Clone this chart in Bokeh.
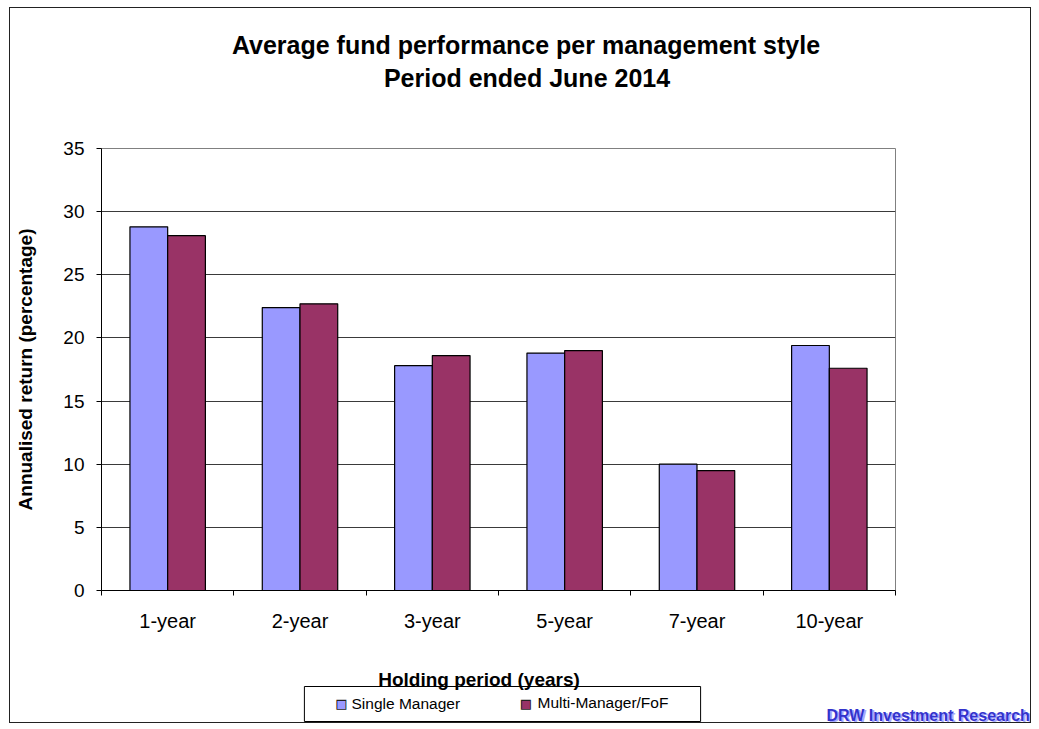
import math
from bokeh.plotting import figure
from bokeh.models import Range1d, FixedTicker, Label, ColumnDataSource
from bokeh.transform import dodge
from bokeh.embed import file_html
from bokeh.resources import INLINE

# ---------------- data ----------------
categories = ["1-year", "2-year", "3-year", "5-year", "7-year", "10-year"]
single_manager = [28.8, 22.4, 17.8, 18.8, 10.0, 19.4]
multi_manager = [28.1, 22.7, 18.6, 19.0, 9.5, 17.6]
y_ticks = [0, 5, 10, 15, 20, 25, 30, 35]
series_names = ["Single Manager", "Multi-Manager/FoF"]
title_lines = ["Average fund performance per management style",
               "Period ended June 2014"]
x_title = "Holding period (years)"
y_title = "Annualised return (percentage)"
watermark = "DRW Investment Research"

# ---------------- styles ----------------
FONT = "Liberation Sans"
SM_COLOR = "#9999FF"
MM_COLOR = "#993366"
BAR_W = 0.285

n = len(categories)
centers = [i + 0.5 for i in range(n)]
bounds = [float(i) for i in range(n + 1)]

src = ColumnDataSource(dict(x=centers, sm=single_manager, mm=multi_manager))

p = figure(width=1020, height=714, output_backend="svg", toolbar_location=None,
           x_range=Range1d(0, n), y_range=Range1d(y_ticks[0], y_ticks[-1]),
           min_border_left=91, min_border_right=135,
           min_border_top=140, min_border_bottom=132)
p.margin = (8, 0, 0, 10)
p.styles = {"outline": "1px solid #222222"}
p.background_fill_color = "white"
p.border_fill_color = "white"
p.outline_line_color = "#808080"
p.outline_line_width = 1

r_sm = p.vbar(x=dodge("x", -BAR_W / 2), top="sm", width=BAR_W, source=src,
              fill_color=SM_COLOR, line_color="black", line_width=1.2)
r_mm = p.vbar(x=dodge("x", BAR_W / 2), top="mm", width=BAR_W, source=src,
              fill_color=MM_COLOR, line_color="black", line_width=1.2)

# x axis
xa = p.xaxis[0]
xa.ticker = FixedTicker(ticks=centers, minor_ticks=bounds)
xa.major_label_overrides = {c: lab for c, lab in zip(centers, categories)}
xa.major_tick_out = 0
xa.major_tick_in = 0
xa.minor_tick_out = 5
xa.minor_tick_in = 0
xa.minor_tick_line_color = "black"
xa.axis_line_color = "black"
xa.major_label_standoff = 14
xa.major_label_text_font = FONT
xa.major_label_text_font_size = "20px"
xa.major_label_text_color = "black"

# y axis
ya = p.yaxis[0]
ya.ticker = FixedTicker(ticks=y_ticks)
ya.major_tick_out = 5
ya.major_tick_in = 0
ya.minor_tick_out = 0
ya.minor_tick_in = 0
ya.axis_line_color = "black"
ya.major_tick_line_color = "black"
ya.major_label_standoff = 12
ya.major_label_text_font = FONT
ya.major_label_text_font_size = "19px"
ya.major_label_text_color = "black"
ya.axis_label = y_title
ya.axis_label_standoff = 24
ya.axis_label_text_font = FONT
ya.axis_label_text_font_size = "19px"
ya.axis_label_text_font_style = "bold"
ya.axis_label_text_color = "black"

p.xgrid.visible = False
p.ygrid.ticker = FixedTicker(ticks=y_ticks)
p.ygrid.grid_line_color = "#3a3a3a"
p.ygrid.grid_line_width = 1


def lab(text, x, y, size, style="bold", color="black", align="center",
        baseline="alphabetic", font=FONT):
    return Label(x=x, y=y, x_units="screen", y_units="screen", text=text,
                 text_align=align, text_baseline=baseline, text_font=font,
                 text_font_size=size, text_font_style=style, text_color=color)


# ---- above panels (first = nearest to the frame) ----
p.add_layout(lab(title_lines[1], 425.5, 71, "25px"), "above")
p.add_layout(lab(title_lines[0], 424.5, 76, "25px"), "above")
p.add_layout(lab(watermark, 727, -624, "16px", color="#A8A8FF",
                 align="left"), "above")
p.add_layout(lab(watermark, 725, -640, "16px", color="#3333CC",
                 align="left"), "above")
p.add_layout(lab(x_title, 377.5, -620.5, "19px"), "above")

# ---- below panels (after the x axis): legend frame and legend texts ----
legend_box = Label(x=401, y=-34.5, x_units="screen", y_units="screen",
                   text="\u00a0" * 46, text_align="center",
                   text_baseline="middle", text_font=FONT,
                   text_font_size="31px", text_color="white",
                   background_fill_color=None, border_line_color="black",
                   border_line_width=1)
p.add_layout(legend_box, "below")
p.add_layout(lab(series_names[0], 250, -16.5, "15.5px", style="normal",
                 align="left"), "below")
p.add_layout(lab(series_names[1], 436, 1, "15.5px", style="normal",
                 align="left"), "below")

# ---- right panels: legend colour keys ----
SQ = "\u25A0"
p.add_layout(lab(SQ, -554, -113, "13px", style="normal", color="#222222",
                 baseline="middle", font="DejaVu Sans"), "right")
p.add_layout(lab(SQ, -566, -113, "10.5px", style="normal", color=SM_COLOR,
                 baseline="middle", font="DejaVu Sans"), "right")
p.add_layout(lab(SQ, -391.5, -113, "13px", style="normal", color="#222222",
                 baseline="middle", font="DejaVu Sans"), "right")
p.add_layout(lab(SQ, -403.5, -113, "10.5px", style="normal", color=MM_COLOR,
                 baseline="middle", font="DejaVu Sans"), "right")

open("out.html", "w").write(file_html(p, INLINE))
